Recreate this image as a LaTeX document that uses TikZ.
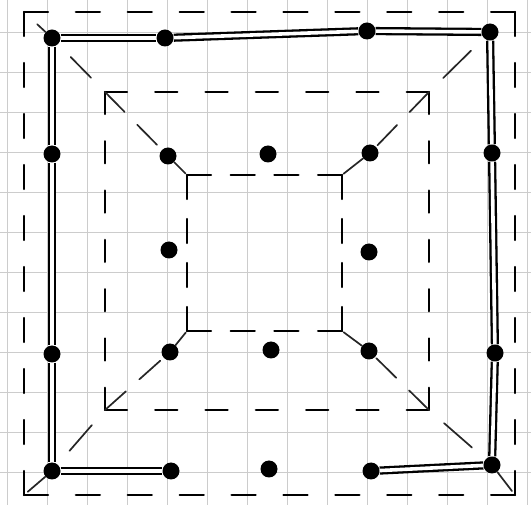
\documentclass[tikz,border=0pt]{standalone}
\begin{document}
\begin{tikzpicture}[x=1pt,y=-1pt,
  gridline/.style={draw=black!20, line width=0.7pt},
  dot/.style={circle, fill=black, inner sep=0pt, minimum size=17pt},
  dbl/.style={draw=black, line width=2.3pt, double=white, double distance=3.6pt},
  sk/.style={draw=black, line width=2.4pt, line cap=round},
  oh/.style={sk, dash pattern=on 24pt off 27.9pt},
  ov/.style={sk, dash pattern=on 24pt off 27pt},
  mh/.style={sk, dash pattern=on 22pt off 28.3pt},
  mv/.style={sk, dash pattern=on 22pt off 27.3pt},
  ih/.style={sk, dash pattern=on 24pt off 19.7pt},
  iv/.style={sk, dash pattern=on 24pt off 20pt},
  diag/.style={draw=black!85, line width=1.7pt, line cap=round},
  diagd/.style={diag, dash pattern=on 28pt off 18pt}
]
\fill[white] (0,0) rectangle (531,505);
\useasboundingbox (0,0) rectangle (531,505);
% graph paper
\foreach \x in {7,47,...,527} \draw[gridline] (\x,0) -- (\x,505);
\foreach \y in {32,72,...,472} \draw[gridline] (0,\y) -- (531,\y);

% corners of the dashed squares
\coordinate (oTL) at (24,12);  \coordinate (oTR) at (515,12);
\coordinate (oBR) at (515,495); \coordinate (oBL) at (24,495);
\coordinate (mTL) at (105,92); \coordinate (mTR) at (429,92);
\coordinate (mBR) at (429,410); \coordinate (mBL) at (105,410);
\coordinate (iTL) at (187,175); \coordinate (iTR) at (342,175);
\coordinate (iBR) at (342,331); \coordinate (iBL) at (187,331);

% dots
\node[dot] (a1) at (52,38) {};
\node[dot] (a2) at (165,38) {};
\node[dot] (a3) at (367,31) {};
\node[dot] (a4) at (490,32) {};
\node[dot] (b1) at (52,154) {};
\node[dot] (b2) at (168,156) {};
\node[dot] (b3) at (268,154) {};
\node[dot] (b4) at (370,153) {};
\node[dot] (b5) at (492,153) {};
\node[dot] (c2) at (169,250) {};
\node[dot] (c4) at (369,252) {};
\node[dot] (d1) at (52,354) {};
\node[dot] (d2) at (170,352) {};
\node[dot] (d3) at (271,350) {};
\node[dot] (d4) at (369,351) {};
\node[dot] (d5) at (495,353) {};
\node[dot] (e1) at (52,471) {};
\node[dot] (e2) at (171,471) {};
\node[dot] (e3) at (269,469) {};
\node[dot] (e4) at (371,471) {};
\node[dot] (e5) at (492,465) {};

% outer dashed square
\draw[oh] (oTL) -- (oTR);
\draw[oh] (oBL) -- (oBR);
\draw[ov] (oTL) -- (oBL);
\draw[ov] (oTR) -- (oBR);
% middle dashed square
\draw[mh] (mTL) -- (mTR);
\draw[mh] (mBL) -- (mBR);
\draw[mv] (mTL) -- (mBL);
\draw[mv] (mTR) -- (mBR);
% inner dashed square
\draw[ih] (iTL) -- (iTR);
\draw[ih] (iBL) -- (iBR);
\draw[iv] (iTL) -- (iBL);
\draw[iv] (iTR) -- (iBR);

% diagonals
\draw[diag, shorten <=18pt] (oTL) -- (a1);
\draw[diag, shorten >=20pt, shorten <=18pt] (a1) -- (mTL);
\draw[diagd] (mTL) -- (b2);
\draw[diag, shorten >=2pt] (b2) -- (iTL);
\draw[diag, shorten >=20pt, shorten <=18pt] (a4) -- (mTR);
\draw[diagd] (mTR) -- (b4);
\draw[diag, shorten >=2pt] (b4) -- (iTR);
\draw[diag, shorten <=5pt] (oBR) -- (e5);
\draw[diag, shorten >=20pt, shorten <=18pt] (e5) -- (mBR);
\draw[diagd] (mBR) -- (d4);
\draw[diag, shorten >=2pt] (d4) -- (iBR);
\draw[diag, shorten <=5pt] (oBL) -- (e1);
\draw[diag, shorten >=20pt, shorten <=18pt] (e1) -- (mBL);
\draw[diagd] (mBL) -- (d2);
\draw[diag, shorten >=2pt] (d2) -- (iBL);

% double lines along the edge
\draw[dbl] (a1) -- (a2);
\draw[dbl] (a2) -- (a3);
\draw[dbl] (a3) -- (a4);
\draw[dbl] (a1) -- (b1);
\draw[dbl] (b1) -- (d1);
\draw[dbl] (d1) -- (e1);
\draw[dbl] (a4) -- (b5);
\draw[dbl] (b5) -- (d5);
\draw[dbl] (d5) -- (e5);
\draw[dbl] (e1) -- (e2);
\draw[dbl] (e4) -- (e5);
\end{tikzpicture}
\end{document}
